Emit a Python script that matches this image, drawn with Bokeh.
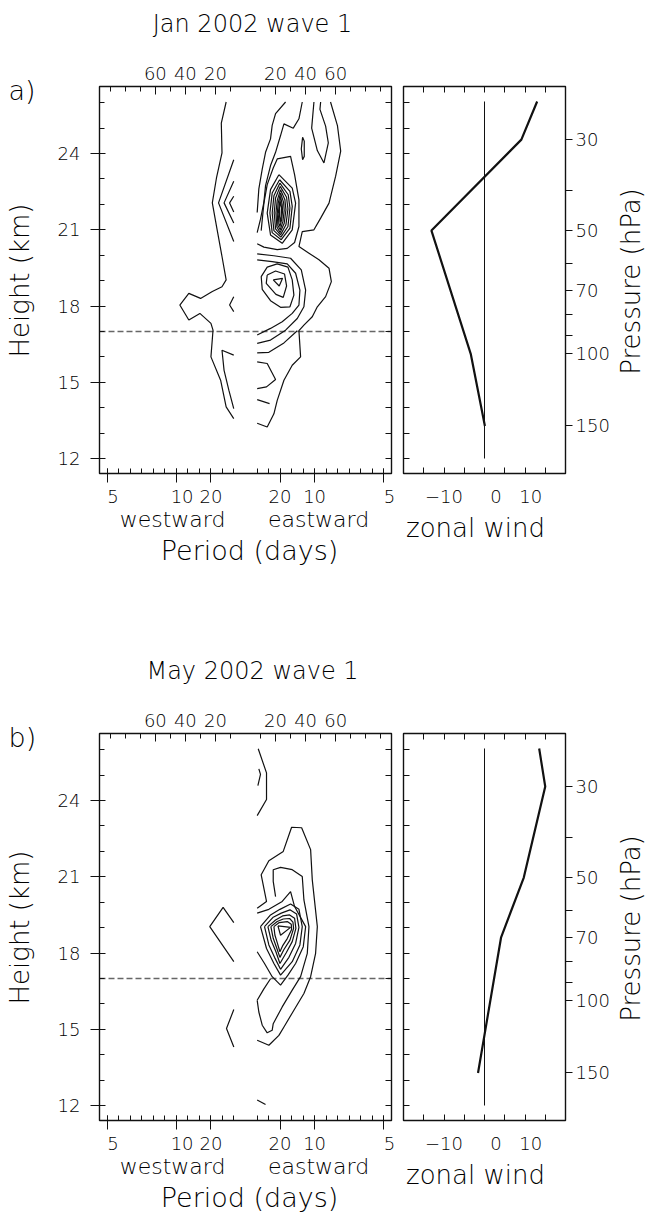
import math
from bokeh.plotting import figure
from bokeh.models import Range1d, LinearAxis, FixedTicker, Label, BoxAnnotation
from bokeh.layouts import column, row
from bokeh.embed import file_html
from bokeh.resources import INLINE

FONT = "'DejaVu Sans Light', 'DejaVu Sans', sans-serif"
INK = "#111111"
TEXT = "#000000"

# ---------------- axis data ----------------
height_ticks = [12, 15, 18, 21, 24]
height_minor = list(range(12, 27))
period_days = [5, 10, 20]
phase_speed_labels = [20, 40, 60]
phase_speed_minor = [10, 30, 50, 70, 80, 90]
MS_PER_CPD = 460.0            # phase speed (m/s) per cycle/day for wave 1
pressure_levels = [30, 40, 50, 60, 70, 80, 90, 100, 150]
pressure_labelled = [30, 50, 70, 100, 150]
SCALE_HEIGHT_KM = 7.0
wind_ticks = [-15, -10, -5, 0, 5, 10, 15]
wind_labels = {-10: "\u221210", 0: "\u2007\u20070", 10: "\u200710"}
tropopause_km = 17.0

# ---------------- zonal wind profiles (m/s vs km) ----------------
jan_wind_u = [13.0, 9.1, -13.1, -3.4, 0.1]
jan_wind_z = [26.05, 24.55, 20.97, 16.12, 13.28]
may_wind_u = [13.5, 15.0, 9.7, 4.1, -1.6]
may_wind_z = [26.05, 24.55, 20.97, 18.62, 13.28]
wind_zero_z = [12.0, 26.05]


def ring(pts):
    return pts + [pts[0]]


# ---------------- Jan 2002 contours (frequency cpd, height km) ----------------
jan_west = [
    [(-0.028, 26.03), (-0.035, 25.2), (-0.034, 24.03), (-0.042, 23.04), (-0.048, 22.06), (-0.041, 21.0),
     (-0.034, 19.95), (-0.028, 19.03), (-0.034, 18.76), (-0.048, 18.57), (-0.065, 18.3), (-0.082, 18.5),
     (-0.095, 18.04), (-0.082, 17.45), (-0.066, 17.71), (-0.050, 17.32), (-0.047, 17.05), (-0.050, 16.0),
     (-0.036, 15.08), (-0.028, 14.03), (-0.017, 13.57)],
    [(-0.017, 23.76), (-0.039, 22.06), (-0.017, 20.54)],
    [(-0.017, 22.91), (-0.031, 22.06), (-0.017, 21.27)],
    [(-0.017, 22.32), (-0.023, 22.06), (-0.017, 21.7)],
    [(-0.017, 18.37), (-0.023, 18.04), (-0.017, 17.78)],
    [(-0.017, 16.07), (-0.034, 16.26), (-0.031, 15.47), (-0.024, 14.68), (-0.017, 13.96)],
]
jan_east_open = [
    [(0.058, 26.03), (0.0435, 25.57), (0.0386, 25.11), (0.0362, 24.58), (0.029, 24.05), (0.0242, 23.39),
     (0.0193, 22.61), (0.0169, 21.68)],
    [(0.0821, 26.03), (0.0773, 25.37), (0.0691, 25.0), (0.0556, 25.17), (0.0507, 24.71), (0.0435, 24.05),
     (0.0362, 23.53), (0.029, 22.74), (0.0266, 22.08), (0.0217, 21.42), (0.0169, 20.89)],
    [(0.099, 26.03), (0.0957, 25.0), (0.1039, 24.12), (0.1135, 23.63), (0.1198, 24.42), (0.1159, 25.08),
     (0.1077, 25.74), (0.1087, 26.03)],
    [(0.123, 26.03), (0.133, 25.1), (0.1377, 24.1), (0.1304, 23.11), (0.1208, 22.05), (0.1087, 21.46),
     (0.099, 21.0), (0.0821, 20.93), (0.0773, 20.34), (0.0918, 20.08), (0.1063, 19.82), (0.1208, 19.49),
     (0.1242, 18.96), (0.1159, 18.37), (0.1039, 17.97), (0.0966, 17.58), (0.0845, 17.25), (0.0773, 17.03),
     (0.0797, 16.0), (0.0676, 15.67), (0.0556, 15.08), (0.0459, 14.29), (0.0411, 13.76), (0.0314, 13.24),
     (0.0169, 13.39)],
    [(0.0227, 20.97), (0.0266, 22.05), (0.0314, 22.78), (0.0401, 23.43), (0.0459, 23.79), (0.0652, 23.89),
     (0.071, 23.17), (0.0773, 22.18), (0.0773, 21.13), (0.071, 20.5), (0.0604, 20.27), (0.0459, 20.22),
     (0.0266, 20.32), (0.0169, 20.45)],
    [(0.0169, 20.05), (0.0411, 19.98), (0.0652, 19.88), (0.0807, 19.42), (0.087, 18.63), (0.0845, 17.97),
     (0.0749, 17.51), (0.058, 17.05), (0.0362, 16.66), (0.0169, 16.53)],
    [(0.0169, 19.82), (0.0386, 19.75), (0.0604, 19.66), (0.0725, 19.29), (0.0787, 18.63), (0.0773, 18.04),
     (0.0676, 17.71), (0.0531, 17.38), (0.0362, 17.12), (0.0169, 16.86)],
    [(0.0169, 16.16), (0.0338, 16.18), (0.0556, 16.55), (0.0749, 17.03)],
    [(0.0169, 15.8), (0.0314, 15.74), (0.0435, 15.11), (0.0304, 14.82), (0.0169, 14.75)],
    [(0.0169, 14.32), (0.0348, 14.16)],
]
jan_east_closed = [
    [(0.0826, 24.64), (0.085, 24.49), (0.085, 23.89), (0.0826, 23.76), (0.0807, 24.18)],
    [(0.0483, 23.17), (0.0676, 22.64), (0.0725, 22.05), (0.0676, 21.0), (0.0531, 20.47), (0.0362, 20.8),
     (0.0314, 21.66), (0.0362, 22.58)],
    [(0.0493, 22.97), (0.0643, 22.51), (0.0676, 21.92), (0.0643, 21.07), (0.0517, 20.61), (0.0386, 20.89),
     (0.0353, 21.66), (0.0386, 22.45)],
    [(0.0498, 22.84), (0.0618, 22.38), (0.0643, 21.86), (0.0614, 21.13), (0.0512, 20.71), (0.0411, 20.97),
     (0.0386, 21.66), (0.0411, 22.34)],
    [(0.0502, 22.71), (0.0594, 22.28), (0.0614, 21.82), (0.0585, 21.2), (0.0507, 20.8), (0.0435, 21.04),
     (0.0415, 21.66), (0.0435, 22.25)],
    [(0.0507, 22.58), (0.057, 22.18), (0.0585, 21.79), (0.056, 21.26), (0.0502, 20.89), (0.0454, 21.11),
     (0.044, 21.66), (0.0459, 22.16)],
    [(0.0507, 22.45), (0.0551, 22.08), (0.056, 21.76), (0.0541, 21.33), (0.0502, 21.0), (0.0469, 21.17),
     (0.0459, 21.63), (0.0473, 22.05)],
    [(0.0507, 22.32), (0.0531, 21.99), (0.0536, 21.72), (0.0522, 21.39), (0.0498, 21.13), (0.0483, 21.26),
     (0.0473, 21.63), (0.0488, 21.95)],
    [(0.0507, 22.12), (0.0522, 21.86), (0.0517, 21.53), (0.0502, 21.29), (0.0493, 21.53), (0.0493, 21.86)],
    [(0.0401, 19.03), (0.0536, 19.09), (0.0488, 18.79)],
    [(0.0314, 19.22), (0.0435, 19.38), (0.0565, 19.26), (0.0594, 18.79), (0.0546, 18.34), (0.044, 18.46),
     (0.03, 18.89)],
    [(0.0227, 19.16), (0.0314, 19.53), (0.0459, 19.66), (0.0614, 19.53), (0.0676, 19.03), (0.07, 18.43),
     (0.0643, 17.97), (0.0507, 17.95), (0.0362, 18.21), (0.0242, 18.66)],
]

# ---------------- May 2002 contours ----------------
may_open = [
    [(-0.0169, 19.2), (-0.0324, 19.8), (-0.0517, 19.04), (-0.0169, 17.66)],
    [(-0.0169, 15.78), (-0.0275, 15.03), (-0.0169, 14.3)],
    [(0.0184, 26.04), (0.0304, 25.09), (0.0304, 24.04), (0.0169, 23.41)],
    [(0.0193, 25.25), (0.0217, 25.03), (0.0179, 24.59)],
    [(0.0169, 19.76), (0.0304, 20.03), (0.0227, 21.08), (0.0338, 21.63), (0.0546, 22.0), (0.0667, 22.95),
     (0.0812, 22.93), (0.0942, 22.07), (0.0966, 20.88), (0.1039, 19.04), (0.1014, 17.99), (0.0942, 17.07),
     (0.0845, 16.41), (0.07, 15.75), (0.0556, 15.09), (0.0483, 14.76), (0.0338, 14.37), (0.0169, 14.57)],
    [(0.0435, 20.22), (0.0401, 20.82), (0.0401, 21.28), (0.0507, 21.37), (0.0676, 21.28), (0.0821, 21.01),
     (0.0845, 20.09), (0.0918, 19.04), (0.0894, 17.99), (0.0797, 17.07), (0.0676, 16.54), (0.0531, 15.88),
     (0.0401, 15.22), (0.0386, 14.96), (0.0314, 14.86), (0.0242, 15.16), (0.0193, 15.68), (0.0169, 16.14)],
    [(0.0169, 16.14), (0.0266, 16.59), (0.0362, 16.99)],
    [(0.0169, 19.57), (0.0338, 19.72), (0.0531, 20.03), (0.0652, 20.42), (0.071, 19.83), (0.087, 19.04),
     (0.0836, 18.25), (0.0725, 17.59), (0.0614, 17.13), (0.0507, 16.74), (0.0386, 17.07), (0.0275, 17.59),
     (0.0169, 18.05)],
    [(0.0169, 12.22), (0.029, 12.04)],
]
may_closed = [
    [(0.0217, 19.04), (0.0362, 19.5), (0.0498, 19.72), (0.0652, 19.93), (0.0773, 19.72), (0.0821, 19.04),
     (0.0787, 18.32), (0.0676, 17.66), (0.0507, 17.13), (0.0411, 17.59), (0.0304, 18.18)],
    [(0.0275, 19.04), (0.0401, 19.41), (0.0517, 19.57), (0.0643, 19.7), (0.0739, 19.54), (0.0773, 19.01),
     (0.0725, 18.38), (0.0628, 17.83), (0.0507, 17.36), (0.042, 17.83), (0.0338, 18.32)],
    [(0.0324, 19.04), (0.0435, 19.3), (0.0536, 19.46), (0.0638, 19.5), (0.071, 19.37), (0.0729, 18.97),
     (0.0676, 18.45), (0.0589, 18.01), (0.0498, 17.59), (0.044, 18.05), (0.0372, 18.49)],
    [(0.0367, 19.04), (0.0459, 19.24), (0.0546, 19.34), (0.0638, 19.36), (0.0686, 19.22), (0.0696, 18.97),
     (0.0643, 18.51), (0.0556, 18.14), (0.0498, 17.83), (0.0449, 18.22), (0.0401, 18.58)],
    [(0.0411, 19.04), (0.0488, 19.2), (0.0604, 19.24), (0.0662, 19.13), (0.0667, 18.93), (0.0604, 18.57),
     (0.0536, 18.28), (0.0498, 18.05), (0.0459, 18.41), (0.0425, 18.71)],
    [(0.0469, 19.07), (0.0652, 19.01), (0.0507, 18.7)],
]

jan_contours = jan_west + jan_east_open + [ring(c) for c in jan_east_closed]
may_contours = may_open + [ring(c) for c in may_closed]

# ---------------- layout (pixels) ----------------
FREQ_LIM = (-0.2112, 0.2112)
WIND_LIM = (-20.0, 20.0)
Z_LIM = (11.41, 26.64)
BOX_TOP, BOX_H = 86, 387          # plot boxes: y from 86 to 473 within each row
C_W, C_BOX_L, C_BOX_W = 397, 99, 292
W_W, W_BOX_L, W_BOX_W = 248, 6, 162


def ranges(lim, box_l, box_w, fig_w):
    per_px = (lim[1] - lim[0]) / box_w
    return Range1d(lim[0] - box_l * per_px, lim[1] + (fig_w - box_l - box_w) * per_px)


def yrange(fig_h):
    per_px = (Z_LIM[1] - Z_LIM[0]) / BOX_H
    return Range1d(Z_LIM[0] - (fig_h - BOX_TOP - BOX_H) * per_px, Z_LIM[1] + BOX_TOP * per_px)


def axis_common(ax, loc):
    ax.fixed_location = loc
    ax.axis_line_color = None
    ax.major_tick_line_color = INK
    ax.minor_tick_line_color = INK
    ax.major_label_text_font = FONT
    ax.major_label_text_font_size = "18px"
    ax.major_label_text_color = TEXT
    return ax


def label(fig, fig_h, text, cx, cy, size, align="center", angle=0.0):
    # cx, cy: pixel position inside the figure, measured from its top-left corner
    fig.add_layout(Label(x=cx, y=fig_h - cy, x_units="screen", y_units="screen", text=text,
                         text_align=align, text_baseline="middle", text_font=FONT,
                         text_font_size=size, text_color=TEXT, angle=angle))


def base_figure(fig_w, fig_h, xr):
    p = figure(width=fig_w, height=fig_h, x_range=xr, y_range=yrange(fig_h),
               x_axis_location=None, y_axis_location=None, min_border=0,
               output_backend="svg", toolbar_location=None, outline_line_color=None,
               background_fill_color="white", border_fill_color="white")
    p.grid.visible = False
    return p


def make_contour(contours, title, letter, fig_h):
    p = base_figure(C_W, fig_h, ranges(FREQ_LIM, C_BOX_L, C_BOX_W, C_W))

    left = axis_common(LinearAxis(ticker=FixedTicker(ticks=height_ticks, minor_ticks=height_minor)), FREQ_LIM[0])
    left.major_tick_in, left.major_tick_out = 6, 9
    left.minor_tick_in, left.minor_tick_out = 5, 0
    left.major_label_standoff = 10
    p.add_layout(left, "left")

    right = axis_common(LinearAxis(ticker=FixedTicker(ticks=[], minor_ticks=height_minor)), FREQ_LIM[1])
    right.minor_tick_in, right.minor_tick_out = 6, 0
    p.add_layout(right, "right")

    freq_major = sorted([-1.0 / d for d in period_days] + [1.0 / d for d in period_days])
    freq_minor = [k / 60.0 for k in range(-12, 13) if k != 0]
    below = axis_common(LinearAxis(ticker=FixedTicker(ticks=freq_major, minor_ticks=freq_minor)), Z_LIM[0])
    below.major_tick_in, below.major_tick_out = 5, 9
    below.minor_tick_in, below.minor_tick_out = 5, 0
    below.major_label_standoff = 3
    overrides = {}
    for d in period_days:
        overrides[-1.0 / d] = ("\u2007" + str(d)) if d in (5, 10) else str(d)
        overrides[1.0 / d] = ("\u2007" + str(d)) if d == 5 else str(d)
    below.major_label_overrides = overrides
    p.add_layout(below, "below")

    c_major = sorted([-c / MS_PER_CPD for c in phase_speed_labels] + [c / MS_PER_CPD for c in phase_speed_labels])
    c_minor = sorted([-c / MS_PER_CPD for c in phase_speed_minor] + [c / MS_PER_CPD for c in phase_speed_minor])
    above = axis_common(LinearAxis(ticker=FixedTicker(ticks=c_major, minor_ticks=c_minor)), Z_LIM[1])
    above.major_tick_in, above.major_tick_out = 8, 0
    above.minor_tick_in, above.minor_tick_out = 5, 0
    above.major_label_standoff = 7
    above.major_label_overrides = {s * c / MS_PER_CPD: str(c) for c in phase_speed_labels for s in (-1, 1)}
    p.add_layout(above, "above")

    p.segment(x0=[FREQ_LIM[0]], x1=[FREQ_LIM[1]], y0=[tropopause_km], y1=[tropopause_km],
              line_color="#666666", line_width=1.5, line_dash="6 3")

    xs = [[pt[0] for pt in c] for c in contours]
    ys = [[pt[1] for pt in c] for c in contours]
    p.multi_line(xs, ys, line_color=INK, line_width=1.2)

    p.add_layout(BoxAnnotation(left=FREQ_LIM[0], right=FREQ_LIM[1], bottom=Z_LIM[0], top=Z_LIM[1],
                               fill_alpha=0, line_color=INK, line_width=1.4, line_alpha=1.0))

    label(p, fig_h, title, 252, 23, "24px")
    label(p, fig_h, letter, 8, 90, "27px", align="left")
    label(p, fig_h, "Height (km)", 19, 280, "26px", angle=math.pi / 2)
    label(p, fig_h, "westward", 172, 519, "22px")
    label(p, fig_h, "eastward", 318, 519, "22px")
    label(p, fig_h, "Period (days)", 249, 550, "27px")
    return p


def make_wind(u, z, fig_h):
    w = base_figure(W_W, fig_h, ranges(WIND_LIM, W_BOX_L, W_BOX_W, W_W))

    left = axis_common(LinearAxis(ticker=FixedTicker(ticks=[], minor_ticks=height_minor)), WIND_LIM[0])
    left.minor_tick_in, left.minor_tick_out = 6, 0
    w.add_layout(left, "left")

    top = axis_common(LinearAxis(ticker=FixedTicker(ticks=[], minor_ticks=wind_ticks)), Z_LIM[1])
    top.minor_tick_in, top.minor_tick_out = 6, 0
    w.add_layout(top, "above")

    bot = axis_common(LinearAxis(ticker=FixedTicker(ticks=wind_ticks, minor_ticks=[])), Z_LIM[0])
    bot.major_tick_in, bot.major_tick_out = 6, 0
    bot.major_label_standoff = 12
    bot.major_label_overrides = {t: wind_labels.get(t, "") for t in wind_ticks}
    w.add_layout(bot, "below")

    p_z = [SCALE_HEIGHT_KM * math.log(1000.0 / pl) for pl in pressure_levels]
    right = axis_common(LinearAxis(ticker=FixedTicker(ticks=p_z, minor_ticks=[])), WIND_LIM[1])
    right.major_tick_in, right.major_tick_out = 0, 7
    right.major_label_standoff = 3
    right.major_label_overrides = {zz: (str(pl) if pl in pressure_labelled else "")
                                   for zz, pl in zip(p_z, pressure_levels)}
    w.add_layout(right, "right")

    w.line([0, 0], wind_zero_z, line_color=INK, line_width=1.0)
    w.line(u, z, line_color=INK, line_width=2.2)

    w.add_layout(BoxAnnotation(left=WIND_LIM[0], right=WIND_LIM[1], bottom=Z_LIM[0], top=Z_LIM[1],
                               fill_alpha=0, line_color=INK, line_width=1.4, line_alpha=1.0))

    label(w, fig_h, "zonal wind", 78, 527, "26px")
    label(w, fig_h, "Pressure (hPa)", 233, 281, "26px", angle=math.pi / 2)
    return w


fa = make_contour(jan_contours, "Jan 2002 wave 1", "a)", 647)
wa = make_wind(jan_wind_u, jan_wind_z, 647)
fb = make_contour(may_contours, "May 2002 wave 1", "b)", 566)
wb = make_wind(may_wind_u, may_wind_z, 566)

layout = column(row(fa, wa), row(fb, wb))
html = file_html(layout, INLINE)
html = html.replace("<head>", "<head><style>html,body{margin:0;padding:0;}</style>", 1)
open("out.html", "w").write(html)
